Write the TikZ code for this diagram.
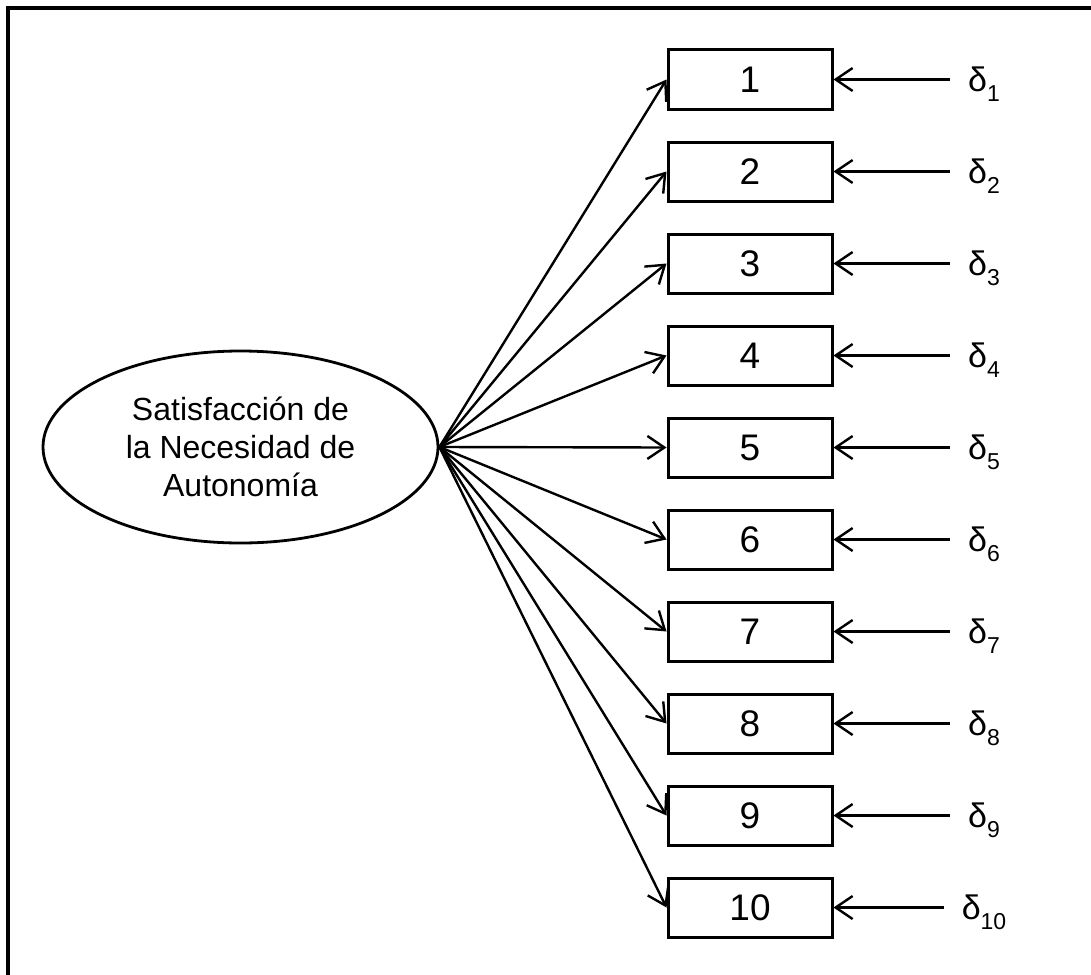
\documentclass[tikz,border=0pt]{standalone}
\usepackage{fontspec}
\setmainfont{Liberation Sans}
\usetikzlibrary{shapes.geometric,arrows.meta}
\begin{document}
\begin{tikzpicture}[x=1pt,y=-1pt,
  item/.style={draw,line width=3pt,minimum width=164pt,minimum height=59pt,inner sep=0pt,
    font=\fontsize{37}{37}\selectfont},
  latent/.style={draw,ellipse,line width=2.8pt,minimum width=395pt,minimum height=192pt,inner sep=0pt,
    align=center,font=\fontsize{32}{38}\selectfont},
  errterm/.style={inner xsep=18pt,inner ysep=0pt,text height=24pt,text depth=0pt},
  path/.style={line width=2.4pt,-{Straight Barb[length=17pt,width=23pt]}}]
\useasboundingbox (0,0) rectangle (1091,974);
% outer frame (runs past the right and bottom edges)
\draw[line width=3.5pt] (8,1000) -- (8,8) -- (1100,8);
% latent factor
\node[latent] (F) at (240.5,447) {Satisfacción de\\la Necesidad de\\Autonomía};
% indicators with their error terms
\foreach \i in {1,...,10}{
  \pgfmathsetmacro{\yc}{79.5+92*(\i-1)}
  \node[item] (x\i) at (750,\yc) {\i};
  \node[errterm] (d\i) at (984,\yc) {{\fontsize{34}{34}\selectfont δ}\raisebox{-10pt}{\fontsize{23}{23}\selectfont\i}};
  \draw[path] (F.east) -- (x\i.west);
  \draw[path] (d\i.west) -- (x\i.east);
}
\end{tikzpicture}
\end{document}
